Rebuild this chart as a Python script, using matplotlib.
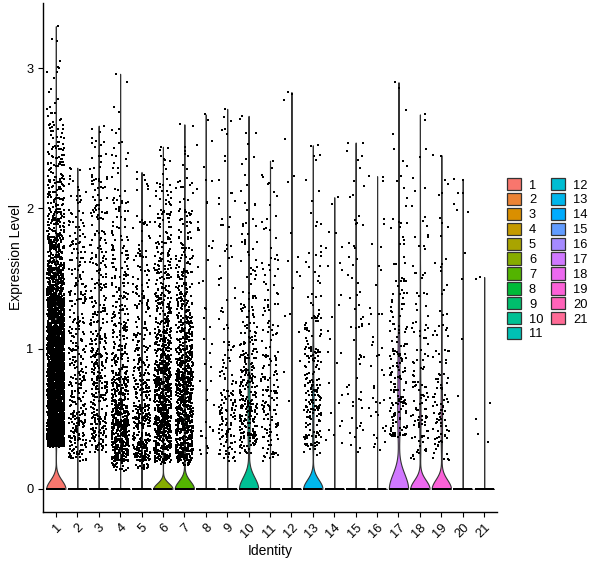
import numpy as np
import matplotlib.pyplot as plt
from matplotlib.patches import Patch

plt.rcParams['font.family'] = ['Liberation Sans', 'DejaVu Sans']

# cluster identities
clusters = [str(i) for i in range(1, 22)]

# non-zero cells counted in 0.2-wide expression bins (0-0.2, 0.2-0.4, ..., 3.2-3.4)
bin_edges = np.round(np.arange(0, 3.41, 0.2), 1)
nonzero_counts = [
    [0, 260, 480, 540, 500, 420, 320, 200, 120, 80, 55, 40, 30, 12, 5, 4, 1],
    [0, 60, 60, 45, 40, 35, 30, 25, 25, 20, 12, 4, 0, 0, 0, 0, 0],
    [0, 40, 60, 60, 55, 40, 30, 28, 25, 25, 20, 15, 8, 0, 0, 0, 0],
    [20, 200, 170, 110, 60, 45, 35, 30, 25, 20, 15, 10, 6, 2, 1, 0, 0],
    [15, 130, 90, 60, 40, 30, 25, 20, 15, 12, 6, 2, 0, 0, 0, 0, 0],
    [10, 160, 180, 170, 130, 90, 65, 45, 35, 28, 18, 8, 2, 0, 0, 0, 0],
    [10, 170, 190, 170, 130, 85, 60, 40, 30, 22, 12, 6, 3, 0, 0, 0, 0],
    [0, 8, 6, 4, 3, 3, 3, 3, 4, 4, 4, 2, 2, 1, 0, 0, 0],
    [0, 35, 40, 25, 15, 8, 6, 5, 6, 5, 5, 3, 3, 2, 0, 0, 0],
    [0, 50, 70, 60, 45, 30, 20, 12, 10, 8, 5, 4, 3, 1, 0, 0, 0],
    [0, 25, 35, 30, 20, 15, 12, 10, 8, 6, 5, 3, 0, 0, 0, 0, 0],
    [0, 0, 0, 1, 2, 1, 2, 3, 2, 1, 1, 1, 1, 1, 1, 0, 0],
    [0, 35, 45, 45, 35, 20, 15, 6, 6, 4, 3, 3, 1, 0, 0, 0, 0],
    [0, 3, 4, 3, 3, 2, 3, 2, 3, 2, 1, 0, 0, 0, 0, 0, 0],
    [0, 5, 8, 8, 6, 6, 6, 5, 5, 5, 4, 3, 2, 0, 0, 0, 0],
    [0, 6, 8, 6, 5, 5, 4, 3, 2, 2, 1, 1, 0, 0, 0, 0, 0],
    [0, 15, 30, 35, 30, 20, 15, 8, 8, 6, 4, 3, 2, 1, 1, 0, 0],
    [0, 20, 25, 20, 15, 12, 8, 6, 5, 4, 3, 2, 1, 1, 0, 0, 0],
    [0, 20, 25, 20, 12, 8, 5, 4, 4, 3, 3, 2, 0, 0, 0, 0, 0],
    [0, 0, 0, 1, 0, 1, 0, 1, 1, 2, 3, 1, 0, 0, 0, 0, 0],
    [0, 2, 1, 1, 0, 0, 0, 1, 0, 0, 0, 0, 0, 0, 0, 0, 0],
]
zero_counts = [6400, 1400, 1600, 3000, 1800, 2420, 2000, 400, 800, 650, 800,
               300, 560, 300, 400, 300, 370, 320, 280, 200, 100]
lowest_nonzero = [0.30, 0.19, 0.26, 0.13, 0.14, 0.18, 0.17, 0.19, 0.19, 0.25, 0.17,
                  0.60, 0.24, 0.25, 0.25, 0.25, 0.37, 0.20, 0.19, 0.60, 0.28]
max_expr = [3.30, 2.29, 2.59, 2.96, 2.26, 2.44, 2.60, 2.67, 2.71, 2.66, 2.34,
            2.83, 2.45, 2.08, 2.47, 2.23, 2.90, 2.67, 2.38, 2.21, 1.51]


def hcl_color(h, c=100, l=65):
    # ggplot default hue palette colour (polar Luv -> sRGB)
    h = np.deg2rad(h)
    u, v = c * np.cos(h), c * np.sin(h)
    xn, yn, zn = 95.047, 100.0, 108.883
    d = xn + 15 * yn + 3 * zn
    un, vn = 4 * xn / d, 9 * yn / d
    y = yn * ((l + 16) / 116) ** 3
    up, vp = u / (13 * l) + un, v / (13 * l) + vn
    x = y * 9 * up / (4 * vp)
    z = y * (12 - 3 * up - 20 * vp) / (4 * vp)
    m = np.array([[3.2404542, -1.5371385, -0.4985314],
                  [-0.9692660, 1.8760108, 0.0415560],
                  [0.0556434, -0.2040259, 1.0572252]])
    rgb = m @ (np.array([x, y, z]) / 100)
    rgb = np.where(rgb <= 0.0031308, 12.92 * rgb, 1.055 * np.abs(rgb) ** (1 / 2.4) - 0.055)
    return np.clip(rgb, 0, 1)


colors = [hcl_color(h) for h in np.linspace(15, 375, len(clusters) + 1)[:-1]]


def violin_shape(vals):
    # like stat_ydensity(trim=TRUE, scale='width') with bw.nrd0
    n = len(vals)
    q1, q3 = np.percentile(vals, [25, 75])
    lo = min(vals.std(ddof=1), (q3 - q1) / 1.349)
    if lo == 0:
        lo = 1e-5  # Seurat adds tiny noise, so the bandwidth collapses
    bw = 0.9 * lo * n ** -0.2
    grid = np.linspace(vals.min(), vals.max(), 512)
    dens = np.exp(-0.5 * ((grid[:, None] - vals[None, :]) / bw) ** 2).sum(axis=1)
    return grid, dens / dens.max()


rng = np.random.default_rng(11)

fig = plt.figure(figsize=(6, 5.68), dpi=100)
ax = fig.add_axes([43 / 600, 1 - 512 / 568, (497 - 43) / 600, (512 - 3) / 568])

for i, name in enumerate(clusters):
    pos = i + 1
    vals = [np.zeros(zero_counts[i])]
    for b, k in enumerate(nonzero_counts[i]):
        lo = max(bin_edges[b], lowest_nonzero[i])
        hi = min(bin_edges[b + 1], max_expr[i])
        if k and hi > lo:
            vals.append(rng.uniform(lo, hi, k))
    vals.append([max_expr[i]])
    vals = np.concatenate(vals)

    grid, w = violin_shape(vals)
    ax.fill_betweenx(grid, pos - 0.45 * w, pos + 0.45 * w, facecolor=colors[i],
                     edgecolor='#333333', linewidth=0.8, zorder=2)

    jx = pos + rng.uniform(-0.4, 0.4, len(vals))
    ax.scatter(jx, vals, s=3.6, marker='s', c='black', linewidths=0, zorder=3)

ymax = max(max_expr)
ax.set_ylim(-0.05 * ymax, 1.05 * ymax)
ax.set_xlim(0.4, len(clusters) + 0.6)
ax.set_yticks([0, 1, 2, 3])
ax.set_xticks(range(1, len(clusters) + 1))
ax.set_xticklabels(clusters, rotation=45, ha='right', va='top', rotation_mode='anchor')
ax.tick_params(labelsize=9.3, length=3.5, width=0.8, colors='black')
for side in ['top', 'right']:
    ax.spines[side].set_visible(False)
for side in ['left', 'bottom']:
    ax.spines[side].set_linewidth(1.0)
ax.set_xlabel('Identity', fontsize=10, labelpad=2.5)
ax.set_ylabel('Expression Level', fontsize=10, labelpad=2)

handles = [Patch(facecolor=colors[i], edgecolor='#333333', linewidth=0.9, label=name)
           for i, name in enumerate(clusters)]
fig.legend(handles=handles, loc='upper left', bbox_to_anchor=(507 / 600, 1 - 178 / 568),
           ncol=2, frameon=False, fontsize=9.3, handlelength=1.1, handleheight=1.1,
           labelspacing=0.1, handletextpad=0.6, columnspacing=0.6, borderpad=0,
           borderaxespad=0)

fig.savefig('out.png', dpi=100)
